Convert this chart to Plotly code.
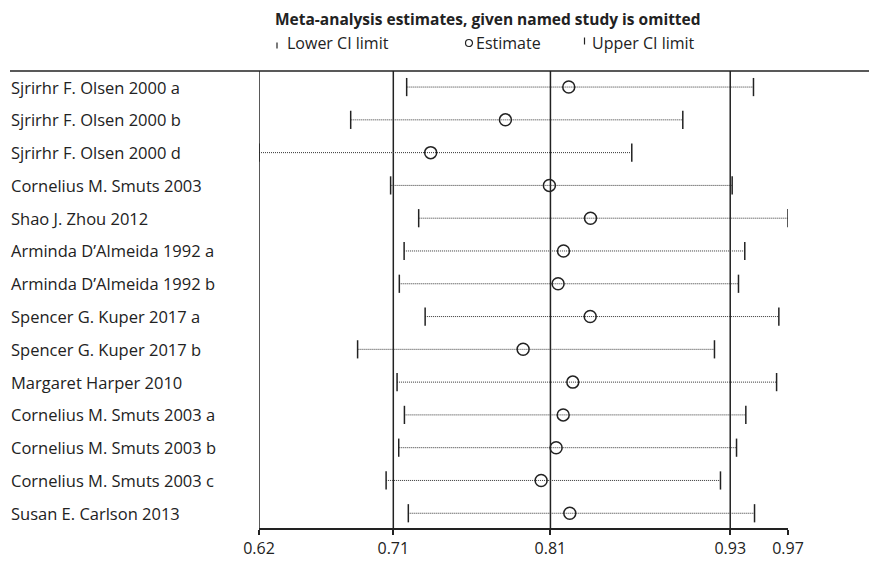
import plotly.graph_objects as go

studies = [
    "Sjrirhr F. Olsen 2000 a", "Sjrirhr F. Olsen 2000 b", "Sjrirhr F. Olsen 2000 d",
    "Cornelius M. Smuts 2003", "Shao J. Zhou 2012", "Arminda D\u2019Almeida 1992 a",
    "Arminda D\u2019Almeida 1992 b", "Spencer G. Kuper 2017 a", "Spencer G. Kuper 2017 b",
    "Margaret Harper 2010", "Cornelius M. Smuts 2003 a", "Cornelius M. Smuts 2003 b",
    "Cornelius M. Smuts 2003 c", "Susan E. Carlson 2013",
]
lower = [0.7179, 0.6806, 0.6195, 0.7072, 0.7259, 0.7162, 0.7130,
         0.7302, 0.6852, 0.7115, 0.7164, 0.7126, 0.7042, 0.7190]
estimate = [0.8259, 0.7837, 0.7339, 0.8130, 0.8404, 0.8224, 0.8188,
            0.8402, 0.7955, 0.8286, 0.8222, 0.8175, 0.8075, 0.8266]
upper = [0.9490, 0.9019, 0.8679, 0.9348, 0.9720, 0.9432, 0.9390,
         0.9659, 0.9230, 0.9644, 0.9439, 0.9377, 0.9270, 0.9497]
tick_vals = [0.6195, 0.7090, 0.8137, 0.9335, 0.9720]
tick_text = ["0.62", "0.71", "0.81", "0.93", "0.97"]
ref_lines = tick_vals[:4]

OFF = 8  # page body margin
W, H = 877 - OFF, 570 - OFF
L, R, T, B = 259 - OFF, 89, 71 - OFF, 42
PW, PH = W - L - R, H - T - B

def px(x):
    return (x - OFF - L) / PW

def py(y):
    return 1 - (y - OFF - T) / PH

rows = list(range(1, len(studies) + 1))
ink = "#222222"
FONT = "Open Sans"

fig = go.Figure()

lx, ly = [], []
for r, lo, up in zip(rows, lower, upper):
    lx += [lo, up, None]
    ly += [r, r, None]
fig.add_trace(go.Scatter(x=lx, y=ly, mode="lines",
                         line=dict(color="#333333", width=1, dash="1px,1px"),
                         hoverinfo="skip", showlegend=False))
fig.add_trace(go.Scatter(x=lower, y=rows, mode="markers",
                         marker=dict(symbol="line-ns", size=13, line=dict(color=ink, width=1.5)),
                         showlegend=False))
fig.add_trace(go.Scatter(x=upper, y=rows, mode="markers",
                         marker=dict(symbol="line-ns", size=13, line=dict(color=ink, width=1.5)),
                         showlegend=False))
fig.add_trace(go.Scatter(x=estimate, y=rows, mode="markers",
                         marker=dict(symbol="circle-open", size=12, color=ink, line=dict(color=ink, width=1.5)),
                         showlegend=False))

shapes = []
for v in ref_lines:
    shapes.append(dict(type="line", xref="x", yref="paper", x0=v, x1=v, y0=0, y1=1,
                       line=dict(color=ink, width=1.5), layer="below"))
shapes.append(dict(type="line", xref="paper", yref="paper", x0=px(10), x1=px(877), y0=1, y1=1,
                   line=dict(color=ink, width=1.5)))
shapes.append(dict(type="line", xref="paper", yref="paper", x0=px(277), x1=px(277),
                   y0=py(42.5), y1=py(48.5), line=dict(color=ink, width=1.2)))
shapes.append(dict(type="circle", xref="paper", yref="paper", x0=px(465.5), x1=px(472.5),
                   y0=py(39.5), y1=py(46.5), line=dict(color=ink, width=1.2)))
shapes.append(dict(type="line", xref="paper", yref="paper", x0=px(584.5), x1=px(584.5),
                   y0=py(37.5), y1=py(44.5), line=dict(color=ink, width=1.2)))

annotations = []
for r, s in zip(rows, studies):
    annotations.append(dict(x=px(9), y=r, xref="paper", yref="y", text=s, showarrow=False,
                            xanchor="left", yanchor="middle",
                            font=dict(family=FONT, size=16.5, color=ink)))
annotations.append(dict(x=px(273), y=py(19.5), xref="paper", yref="paper",
                        text="<b>Meta-analysis estimates, given named study is omitted</b>",
                        showarrow=False, xanchor="left", yanchor="middle",
                        font=dict(family=FONT, size=15.5, color=ink)))
for xpos, txt in [(285, "Lower CI limit"), (474, "Estimate"), (590, "Upper CI limit")]:
    annotations.append(dict(x=px(xpos), y=py(42.5), xref="paper", yref="paper", text=txt,
                            showarrow=False, xanchor="left", yanchor="middle",
                            font=dict(family=FONT, size=16, color=ink)))

fig.update_layout(
    width=W, height=H,
    margin=dict(l=L, r=R, t=T, b=B, pad=0),
    paper_bgcolor="white", plot_bgcolor="white",
    shapes=shapes, annotations=annotations,
    xaxis=dict(range=[tick_vals[0], tick_vals[-1]], tickvals=tick_vals, ticktext=tick_text,
               showgrid=False, zeroline=False, showline=True, linecolor=ink, linewidth=1.5,
               ticks="outside", ticklen=5, tickwidth=1.5, tickcolor=ink,
               tickfont=dict(family=FONT, size=16, color=ink)),
    yaxis=dict(range=[14.45, 0.51], showgrid=False, zeroline=False, showline=False,
               showticklabels=False, ticks=""),
)

fig.write_html("out.html")
